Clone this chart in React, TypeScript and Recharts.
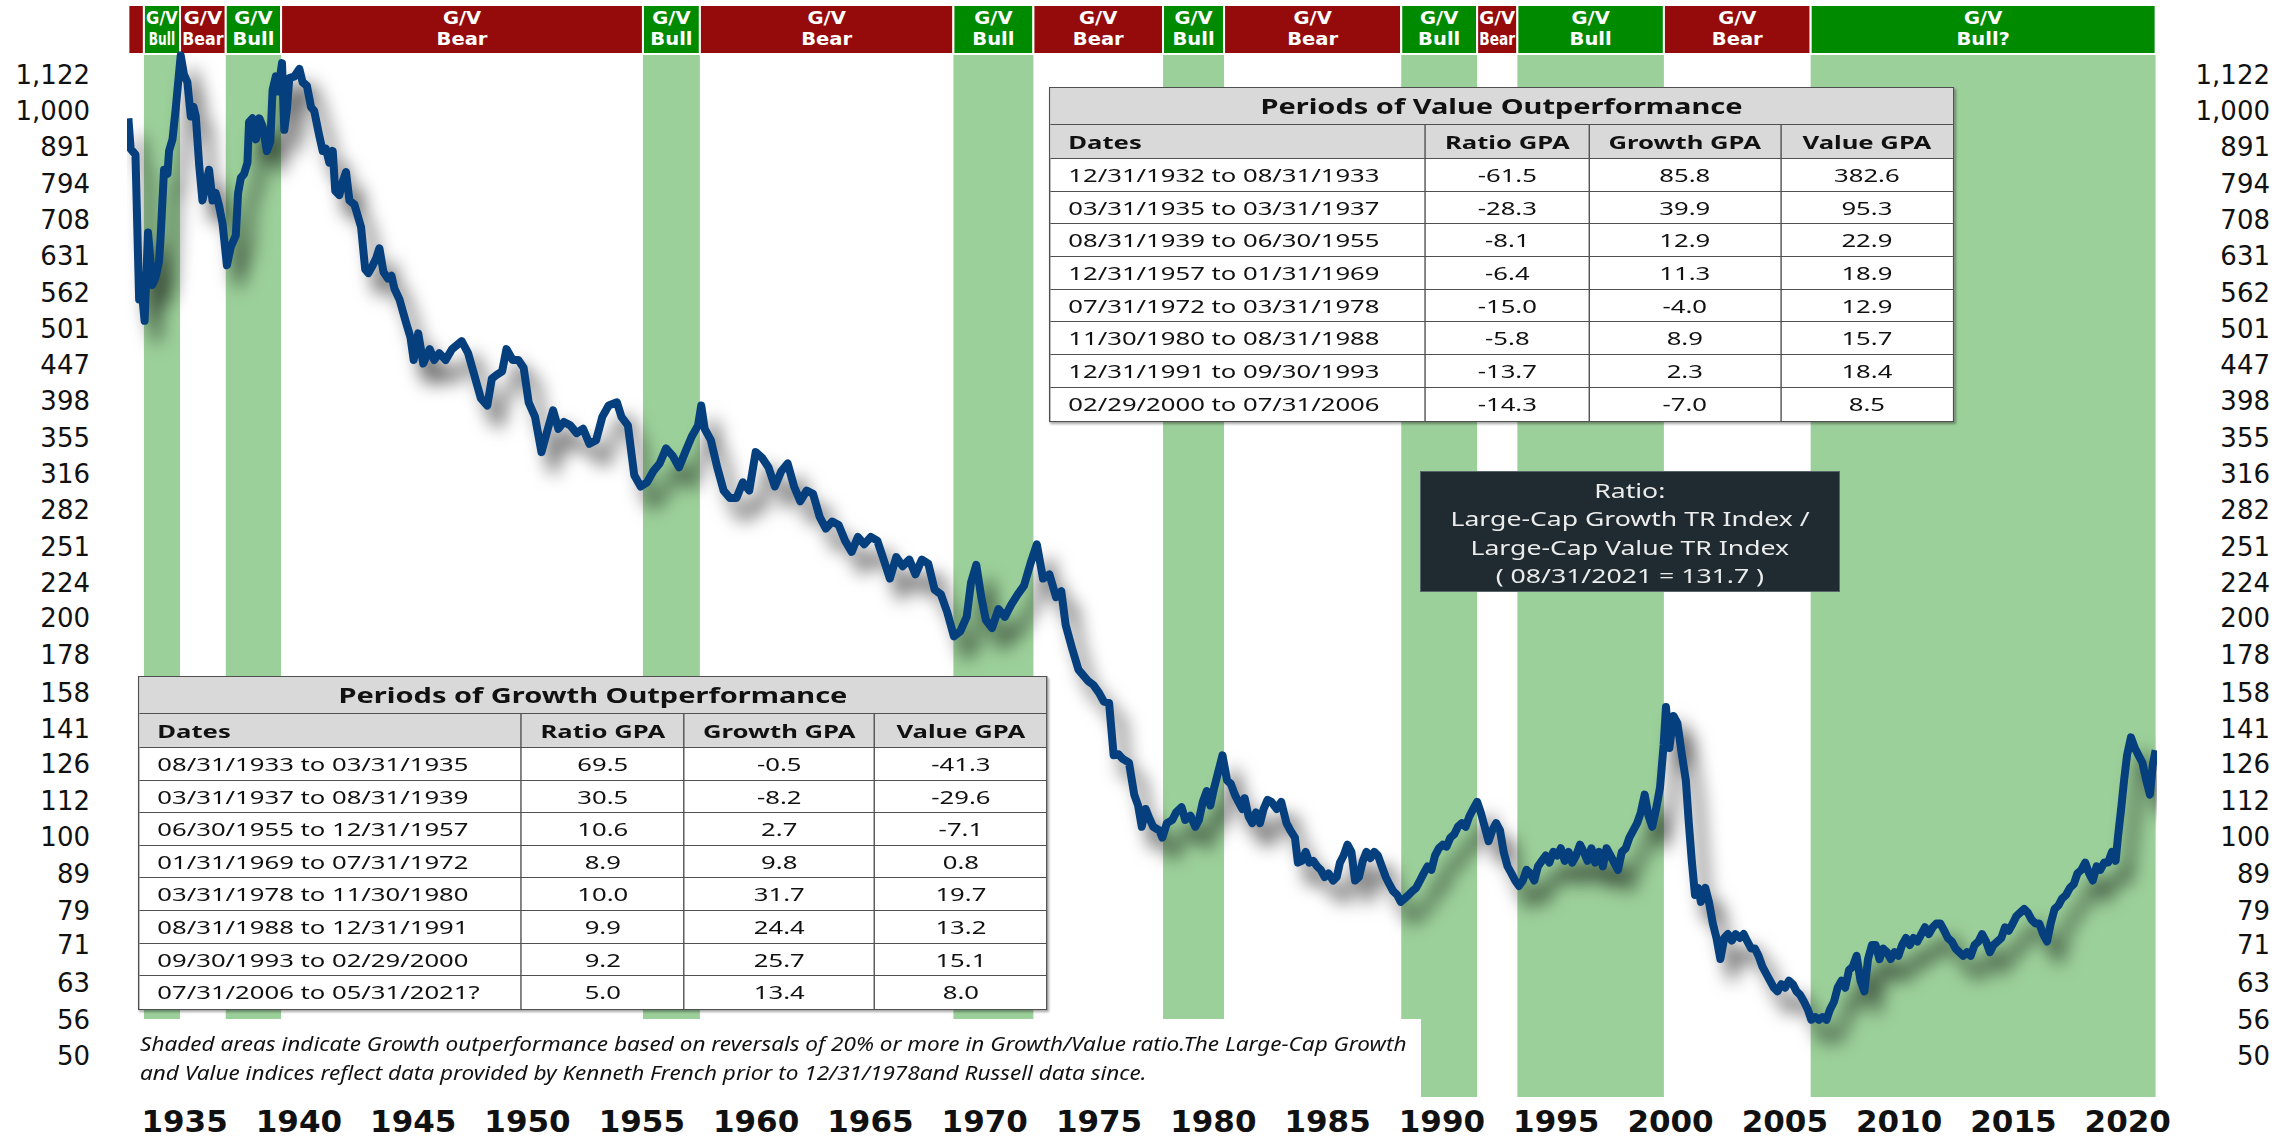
import React from "react";
import { LineChart, Line, XAxis, YAxis, ReferenceArea } from "recharts";

// Growth / Value ratio: [decimal year, ratio]
const ratioPrewar: [number, number][] = [
	[1932.99, 977], [1933.09, 887], [1933.3, 871], [1933.46, 550], [1933.52, 590], [1933.7, 514],
	[1933.85, 680], [1934.04, 576], [1934.18, 590], [1934.33, 620], [1934.4, 670], [1934.55, 830],
	[1934.7, 819], [1934.77, 881], [1934.92, 914], [1935.06, 1007], [1935.28, 1193], [1935.42, 1123],
	[1935.57, 1096], [1935.72, 983], [1935.84, 1013], [1935.94, 983], [1936.09, 840], [1936.23, 753],
	[1936.38, 791], [1936.52, 830], [1936.67, 753], [1936.81, 771], [1936.96, 740], [1937.11, 700],
	[1937.3, 613], [1937.47, 650], [1937.69, 674], [1937.79, 771], [1937.91, 809], [1938.05, 819],
	[1938.2, 849], [1938.27, 966], [1938.42, 977], [1938.57, 914], [1938.72, 977], [1938.86, 953],
	[1939.05, 881], [1939.2, 908], [1939.3, 1070], [1939.44, 1116], [1939.54, 1064], [1939.71, 1164],
	[1939.81, 942], [1939.93, 1007], [1940.03, 1110], [1940.25, 1116], [1940.47, 1143], [1940.61, 1096],
	[1940.8, 1083], [1940.98, 1013], [1941.12, 1000], [1941.34, 925], [1941.49, 881], [1941.63, 887],
	[1941.78, 849], [1941.93, 881], [1942.04, 776], [1942.22, 766], [1942.37, 800], [1942.51, 824],
	[1942.66, 753], [1942.88, 743], [1943.17, 692], [1943.35, 605], [1943.49, 598], [1943.68, 613],
	[1943.83, 627], [1943.97, 647], [1944.15, 600], [1944.34, 588], [1944.5, 593], [1944.63, 569],
	[1944.85, 550],
];

const ratioPostwar: [number, number][] = [
	[1945.13, 512], [1945.33, 488], [1945.47, 454], [1945.67, 494], [1945.89, 449], [1946.17, 470],
	[1946.37, 454], [1946.59, 464], [1946.87, 454], [1947.15, 470], [1947.57, 482], [1947.85, 464],
	[1948.12, 433], [1948.41, 402], [1948.69, 393], [1948.89, 428], [1949.1, 433], [1949.34, 438],
	[1949.53, 470], [1949.8, 454], [1950.05, 454], [1950.28, 443], [1950.5, 397], [1950.78, 379],
	[1951.06, 339], [1951.34, 365], [1951.57, 387], [1951.8, 365], [1952.04, 373], [1952.32, 369],
	[1952.6, 360], [1952.88, 365], [1953.16, 348], [1953.45, 352], [1953.72, 379], [1954.0, 393],
	[1954.36, 397], [1954.56, 379], [1954.84, 369], [1955.12, 315], [1955.4, 304], [1955.68, 308],
	[1955.95, 319], [1956.23, 327], [1956.51, 343], [1956.8, 335], [1957.08, 323], [1957.35, 339],
	[1957.63, 356], [1957.91, 369], [1958.05, 393], [1958.2, 365], [1958.47, 352], [1958.75, 323],
	[1959.03, 300], [1959.31, 293], [1959.59, 293], [1959.87, 308], [1960.15, 300], [1960.43, 339],
	[1960.71, 333], [1960.99, 323], [1961.27, 304], [1961.55, 319], [1961.83, 327], [1962.11, 304],
	[1962.38, 290], [1962.66, 300], [1962.94, 297], [1963.23, 276], [1963.5, 266], [1963.78, 272],
	[1964.06, 269], [1964.34, 256], [1964.63, 247], [1964.9, 259], [1965.18, 253], [1965.47, 259],
	[1965.75, 256], [1966.03, 241], [1966.3, 227], [1966.58, 243], [1966.86, 236], [1967.15, 241],
	[1967.42, 230], [1967.7, 241], [1967.98, 238], [1968.26, 219], [1968.53, 216], [1968.81, 204],
	[1969.1, 189], [1969.38, 192], [1969.66, 201], [1969.85, 224], [1970.08, 237], [1970.3, 214],
	[1970.5, 199], [1970.77, 194], [1971.05, 206], [1971.33, 201], [1971.61, 209], [1971.9, 216],
	[1972.17, 222], [1972.45, 238], [1972.73, 253], [1973.0, 227], [1973.28, 230], [1973.57, 214],
	[1973.8, 218], [1973.99, 196], [1974.27, 182], [1974.55, 170], [1974.97, 164], [1975.2, 162],
	[1975.45, 158],
];

const ratioModern: [number, number][] = [
	[1975.66, 153.6], [1975.89, 153], [1976.09, 129.6], [1976.3, 130], [1976.49, 128.1], [1976.76, 126.6],
	[1976.99, 114.4], [1977.16, 110.5], [1977.32, 103.3], [1977.49, 109.3], [1977.66, 106], [1977.82, 103.3],
	[1978.09, 102.1], [1978.22, 99.8], [1978.42, 104.5], [1978.66, 105.6], [1978.82, 108.1], [1979.06, 109.9],
	[1979.22, 105.6], [1979.45, 107], [1979.66, 103.3], [1979.82, 105.6], [1979.99, 111.8], [1980.16, 115.7],
	[1980.32, 110.5], [1980.49, 117], [1980.65, 122.4], [1980.85, 129.6], [1981.05, 119.7], [1981.22, 118.3],
	[1981.39, 114.4], [1981.55, 111.8], [1981.72, 109.3], [1981.82, 113.1], [1981.99, 106.8], [1982.15, 104.5],
	[1982.32, 108.1], [1982.49, 104.5], [1982.65, 109.3], [1982.82, 112.5], [1982.99, 111.8], [1983.22, 109.3],
	[1983.42, 111.8], [1983.65, 104.5], [1983.82, 102.1], [1984.02, 99.8], [1984.15, 92.2], [1984.32, 92.7],
	[1984.49, 95.4], [1984.65, 92.2], [1984.82, 92.7], [1984.99, 91.1], [1985.15, 90.1], [1985.32, 88.1],
	[1985.49, 89.1], [1985.69, 87.1], [1985.85, 88.1], [1985.99, 92.2], [1986.15, 94.3], [1986.32, 97.6],
	[1986.49, 95.4], [1986.65, 87.1], [1986.82, 88.1], [1986.99, 92.7], [1987.15, 95.4], [1987.32, 93.5],
	[1987.49, 95.4], [1987.65, 94.3], [1987.82, 91.1], [1987.99, 88.1], [1988.15, 86.1], [1988.32, 84.2],
	[1988.49, 83.2], [1988.65, 81.4], [1988.82, 82.3], [1988.99, 83.2], [1989.15, 84.2], [1989.32, 85.1],
	[1989.49, 87.1], [1989.65, 89.1], [1989.82, 91.1], [1989.99, 90.1], [1990.15, 94.3], [1990.32, 96.5],
	[1990.49, 97.6], [1990.65, 97], [1990.82, 99.8], [1990.99, 100.9], [1991.15, 103.3], [1991.32, 104.5],
	[1991.49, 103.3], [1991.65, 106.8], [1991.82, 109.3], [1991.99, 111.8], [1992.15, 108.1], [1992.32, 103.3],
	[1992.49, 98.7], [1992.65, 102.1], [1992.82, 104.5], [1992.99, 102.1], [1993.15, 95.4], [1993.32, 91.1],
	[1993.49, 89.1], [1993.65, 87.1], [1993.82, 85.6], [1993.99, 87.1], [1994.15, 90.1], [1994.32, 89.1],
	[1994.49, 87.1], [1994.65, 91.1], [1994.82, 92.7], [1994.99, 94.3], [1995.15, 92.2], [1995.32, 95.4],
	[1995.49, 94.3], [1995.65, 96.5], [1995.82, 92.7], [1995.99, 95.4], [1996.15, 92.2], [1996.32, 94.3],
	[1996.49, 97.6], [1996.65, 95.4], [1996.82, 92.7], [1996.99, 96.5], [1997.15, 92.2], [1997.32, 95.4],
	[1997.49, 91.1], [1997.65, 96.5], [1997.82, 94.3], [1998.15, 90.1], [1998.32, 95.4], [1998.49, 96.5],
	[1998.65, 99.8], [1998.82, 102.1], [1998.99, 104.5], [1999.15, 108.1], [1999.32, 114.4], [1999.49, 106.8],
	[1999.65, 103.3], [1999.82, 109.3], [1999.99, 117], [2000.15, 134.1], [2000.25, 151], [2000.4, 132.6],
	[2000.58, 146.8], [2000.75, 143.5], [2000.95, 129.6], [2001.12, 119.7], [2001.25, 104.5], [2001.38, 92.7],
	[2001.52, 83.2], [2001.65, 85.1], [2001.78, 81.4], [2001.97, 85.1], [2002.13, 81.4], [2002.3, 76.0],
	[2002.46, 72.6], [2002.63, 67.9], [2002.8, 72.6], [2002.96, 73.5], [2003.13, 72], [2003.3, 73.5],
	[2003.48, 72.6], [2003.65, 73.5], [2003.81, 71.8], [2003.98, 70.2], [2004.14, 70.2], [2004.3, 68.6],
	[2004.47, 66.3], [2004.64, 64.8], [2004.8, 63.4], [2004.97, 62.0], [2005.13, 61.3], [2005.3, 62.7],
	[2005.46, 62.0], [2005.63, 63.4], [2005.8, 62.7], [2005.96, 61.3], [2006.12, 60.6], [2006.29, 59.3],
	[2006.45, 57.9], [2006.61, 56.0], [2006.78, 56.5], [2006.94, 56.0], [2007.1, 56.5], [2007.27, 56.0],
	[2007.43, 57.9], [2007.6, 59.3], [2007.76, 62.0], [2007.93, 63.4], [2008.09, 62.0], [2008.26, 65.6],
	[2008.42, 66.3], [2008.59, 68.6], [2008.76, 63.4], [2008.93, 61.3], [2009.09, 67.9], [2009.26, 71.0],
	[2009.42, 71.0], [2009.59, 67.9], [2009.75, 70.2], [2009.92, 69.4], [2010.08, 67.9], [2010.25, 69.4],
	[2010.42, 68.6], [2010.58, 71.0], [2010.75, 72.6], [2010.92, 71.0], [2011.08, 72.6], [2011.25, 71.8],
	[2011.42, 73.5], [2011.58, 75.1], [2011.75, 73.5], [2011.92, 75.1], [2012.08, 76.0], [2012.25, 76.0],
	[2012.42, 74.3], [2012.58, 72.6], [2012.75, 71.8], [2012.92, 70.2], [2013.08, 69.4], [2013.25, 68.6],
	[2013.42, 69.4], [2013.58, 68.6], [2013.75, 71.0], [2013.92, 71.8], [2014.08, 73.5], [2014.25, 71.8],
	[2014.42, 69.4], [2014.58, 71.0], [2014.75, 71.8], [2014.92, 72.6], [2015.08, 75.1], [2015.25, 74.3],
	[2015.42, 76.0], [2015.58, 77.8], [2015.75, 78.7], [2015.92, 79.6], [2016.08, 78.7], [2016.25, 76.9],
	[2016.42, 76.0], [2016.58, 76.0], [2016.75, 73.5], [2016.92, 71.8], [2017.08, 76.0], [2017.25, 79.6],
	[2017.42, 80.5], [2017.58, 82.3], [2017.75, 83.2], [2017.92, 85.1], [2018.09, 86.1], [2018.25, 89.1],
	[2018.42, 90.1], [2018.59, 92.2], [2018.76, 89.1], [2018.92, 87.1], [2019.09, 91.1], [2019.25, 90.1],
	[2019.42, 92.2], [2019.59, 92.2], [2019.76, 95.4], [2019.92, 92.7], [2020.02, 99.8], [2020.16, 109.3],
	[2020.29, 119.7], [2020.42, 129.6], [2020.59, 137.2], [2020.76, 132.6], [2020.92, 129.6], [2021.09, 126.6],
	[2021.26, 119.7], [2021.42, 114.4], [2021.55, 126], [2021.67, 131.7],
];

// G/V regimes: start of each period (decimal year), the last one runs to periodEnd
const periodStarts = [
	1932.99, 1933.67, 1935.25, 1937.25, 1939.67, 1955.5, 1957.99, 1969.08,
	1972.58, 1978.25, 1980.92, 1988.67, 1991.99, 1993.75, 2000.16, 2006.58,
];
const periodEnd = 2021.67;
const periodLabels = [
	"", "Bull", "Bear", "Bull", "Bear", "Bull", "Bear", "Bull",
	"Bear", "Bull", "Bear", "Bull", "Bear", "Bull", "Bear", "Bull?",
];

const yTicks = [
	1122, 1000, 891, 794, 708, 631, 562, 501, 447, 398, 355, 316, 282, 251,
	224, 200, 178, 158, 141, 126, 112, 100, 89, 79, 71, 63, 56, 50,
];
const yTickLabels = [
	"1,122", "1,000", "891", "794", "708", "631", "562", "501", "447", "398", "355", "316", "282", "251",
	"224", "200", "178", "158", "141", "126", "112", "100", "89", "79", "71", "63", "56", "50",
];
const xTickYears = [
	1935, 1940, 1945, 1950, 1955, 1960, 1965, 1970, 1975,
	1980, 1985, 1990, 1995, 2000, 2005, 2010, 2015, 2020,
];
const LABEL_SHIFT = 0.45; // year labels sit in the middle of the year

const growthDates = [
	"08/31/1933 to 03/31/1935", "03/31/1937 to 08/31/1939", "06/30/1955 to 12/31/1957", "01/31/1969 to 07/31/1972",
	"03/31/1978 to 11/30/1980", "08/31/1988 to 12/31/1991", "09/30/1993 to 02/29/2000", "07/31/2006 to 05/31/2021?",
];
const growthRatioGpa = ["69.5", "30.5", "10.6", "8.9", "10.0", "9.9", "9.2", "5.0"];
const growthGrowthGpa = ["-0.5", "-8.2", "2.7", "9.8", "31.7", "24.4", "25.7", "13.4"];
const growthValueGpa = ["-41.3", "-29.6", "-7.1", "0.8", "19.7", "13.2", "15.1", "8.0"];

const valueDates = [
	"12/31/1932 to 08/31/1933", "03/31/1935 to 03/31/1937", "08/31/1939 to 06/30/1955", "12/31/1957 to 01/31/1969",
	"07/31/1972 to 03/31/1978", "11/30/1980 to 08/31/1988", "12/31/1991 to 09/30/1993", "02/29/2000 to 07/31/2006",
];
const valueRatioGpa = ["-61.5", "-28.3", "-8.1", "-6.4", "-15.0", "-5.8", "-13.7", "-14.3"];
const valueGrowthGpa = ["85.8", "39.9", "12.9", "11.3", "-4.0", "8.9", "2.3", "-7.0"];
const valueValueGpa = ["382.6", "95.3", "22.9", "18.9", "12.9", "15.7", "18.4", "8.5"];

const ratioBoxLines = ["Ratio:", "Large-Cap Growth TR Index /", "Large-Cap Value TR Index", "( 08/31/2021 = 131.7 )"];
const footnoteLines = [
	"Shaded areas indicate Growth outperformance based on reversals of 20% or more in Growth/Value ratio.The Large-Cap Growth",
	"and Value indices reflect data provided by Kenneth French prior to 12/31/1978and Russell data since.",
];

const data = [...ratioPrewar, ...ratioPostwar, ...ratioModern].map(([t, v]) => ({ t, v }));

const X_DOMAIN: [number, number] = [1932.93, 2021.73];
const Y_DOMAIN: [number, number] = [43.84, 1399.7];
const BANNER_BOTTOM = 1198.3;

const GREEN_BAND = "#9cd09a";
const BULL = "#008a00";
const BEAR = "#950b0b";
const TEXT_FONT = "'Noto Sans', 'Open Sans', sans-serif";
const STRETCH = 1.38;

const LeftTick = (props: any) => {
	const i = yTicks.indexOf(props.payload.value);
	return (
		<text x={90} y={props.y} dy={9} textAnchor="end" fontFamily="'DejaVu Sans', sans-serif" fontSize={26} fill="#111">
			{yTickLabels[i]}
		</text>
	);
};

const RightTick = (props: any) => {
	const i = yTicks.indexOf(props.payload.value);
	return (
		<text x={2270} y={props.y} dy={9} textAnchor="end" fontFamily="'DejaVu Sans', sans-serif" fontSize={26} fill="#111">
			{yTickLabels[i]}
		</text>
	);
};

const YearTick = (props: any) => {
	const year = xTickYears.find((yr) => Math.abs(yr + LABEL_SHIFT - props.payload.value) < 0.01);
	return (
		<text x={props.x} y={1132} textAnchor="middle" fontFamily="'DejaVu Sans', sans-serif" fontWeight="bold" fontSize={31} fill="#111">
			{year}
		</text>
	);
};

// two-line white label; squeezed so it never spills past its banner cell
const BannerLabel = (props: any) => {
	const { viewBox, text, idx } = props;
	if (!text || !viewBox) return null;
	const cx = viewBox.x + viewBox.width / 2;
	const fit = (s: string) => Math.min(1.15, (viewBox.width - 4) / (s.length * 0.66 * 17));
	const clipId = `banner-clip-${idx}`;
	return (
		<g fontFamily="'DejaVu Sans', sans-serif" fontWeight="bold" fontSize={17} fill="#fff">
			<clipPath id={clipId}>
				<rect x={viewBox.x} y={viewBox.y} width={viewBox.width} height={viewBox.height} />
			</clipPath>
			<g clipPath={`url(#${clipId})`}>
				<text transform={`translate(${cx} 23.5) scale(${fit("G/V")} 1)`} textAnchor="middle">G/V</text>
				<text transform={`translate(${cx} 45) scale(${fit(text)} 1)`} textAnchor="middle">{text}</text>
			</g>
		</g>
	);
};

type TableProps = {
	left: number;
	top: number;
	title: string;
	cols: number[];
	rowH: number;
	dates: string[];
	ratio: string[];
	growth: string[];
	value: string[];
};

const border = "1.5px solid #505050";

const PeriodTable = ({ left, top, title, cols, rowH, dates, ratio, growth, value }: TableProps) => {
	const w = cols.map((c) => c / STRETCH);
	const total = w.reduce((a, b) => a + b, 0);
	const cell = (txt: string, j: number, bold: boolean, align: "left" | "center") => (
		<div
			key={j}
			style={{
				width: w[j],
				boxSizing: "border-box",
				borderRight: j < 3 ? border : "none",
				textAlign: align,
				paddingLeft: align === "left" ? 13 : 0,
				fontWeight: bold ? 700 : 400,
				whiteSpace: "nowrap",
			}}
		>
			{txt}
		</div>
	);
	return (
		<div
			style={{
				position: "absolute",
				left,
				top,
				width: total,
				transform: `scaleX(${STRETCH})`,
				transformOrigin: "left top",
				border,
				boxSizing: "border-box",
				background: "#fff",
				fontFamily: TEXT_FONT,
				fontSize: 18.6,
				color: "#111",
				boxShadow: "1px 2px 2px rgba(0,0,0,0.35)",
			}}
		>
			<div
				style={{
					height: 36,
					lineHeight: "36px",
					background: "#d9d9d9",
					borderBottom: border,
					textAlign: "center",
					fontWeight: 700,
					fontSize: 21,
				}}
			>
				{title}
			</div>
			<div style={{ display: "flex", height: 33, lineHeight: "33px", background: "#d9d9d9", borderBottom: border }}>
				{cell("Dates", 0, true, "left")}
				{cell("Ratio GPA", 1, true, "center")}
				{cell("Growth GPA", 2, true, "center")}
				{cell("Value GPA", 3, true, "center")}
			</div>
			{dates.map((d, i) => (
				<div
					key={d}
					style={{
						display: "flex",
						height: rowH,
						lineHeight: `${rowH}px`,
						borderBottom: i < dates.length - 1 ? border : "none",
						boxSizing: "border-box",
					}}
				>
					{cell(d, 0, false, "left")}
					{cell(ratio[i], 1, false, "center")}
					{cell(growth[i], 2, false, "center")}
					{cell(value[i], 3, false, "center")}
				</div>
			))}
		</div>
	);
};

const Stretched = ({ children, sx, origin }: { children: React.ReactNode; sx: number; origin: string }) => (
	<span style={{ display: "inline-block", transform: `scaleX(${sx})`, transformOrigin: origin, whiteSpace: "nowrap" }}>
		{children}
	</span>
);

const App = () => {
	return (
		<div style={{ position: "absolute", left: 0, top: 0, width: 2293, height: 1141, background: "#fff", overflow: "hidden" }}>
			<style>{`.ratio-line path { filter: drop-shadow(12px 18px 9px rgba(0,0,0,0.62)); }`}</style>
			<LineChart width={2293} height={1141} data={data} margin={{ top: 5, right: 0, bottom: 0, left: 0 }}>
				<XAxis
					dataKey="t"
					type="number"
					domain={X_DOMAIN}
					allowDataOverflow
					ticks={xTickYears.map((y) => y + LABEL_SHIFT)}
					interval={0}
					tick={<YearTick />}
					axisLine={false}
					tickLine={false}
					height={44}
				/>
				<YAxis
					yAxisId="left"
					type="number"
					scale="log"
					domain={Y_DOMAIN}
					allowDataOverflow
					ticks={yTicks}
					interval={0}
					tick={<LeftTick />}
					axisLine={false}
					tickLine={false}
					width={127}
				/>
				<YAxis
					yAxisId="right"
					orientation="right"
					type="number"
					scale="log"
					domain={Y_DOMAIN}
					allowDataOverflow
					ticks={yTicks}
					interval={0}
					tick={<RightTick />}
					axisLine={false}
					tickLine={false}
					width={136}
				/>
				{periodStarts.map((s, i) =>
					periodLabels[i].startsWith("Bull") ? (
						<ReferenceArea
							key={`band-${i}`}
							yAxisId="left"
							x1={s}
							x2={i + 1 < periodStarts.length ? periodStarts[i + 1] : periodEnd}
							y1={Y_DOMAIN[0]}
							y2={BANNER_BOTTOM}
							fill={GREEN_BAND}
							fillOpacity={1}
							stroke="none"
							ifOverflow="visible"
						/>
					) : null
				)}
				{periodStarts.map((s, i) => (
					<ReferenceArea
						key={`banner-${i}`}
						yAxisId="left"
						x1={s}
						x2={i + 1 < periodStarts.length ? periodStarts[i + 1] : periodEnd}
						y1={BANNER_BOTTOM}
						y2={Y_DOMAIN[1]}
						fill={periodLabels[i].startsWith("Bull") ? BULL : BEAR}
						fillOpacity={1}
						stroke="#ffffff"
						strokeWidth={2}
						ifOverflow="visible"
						label={<BannerLabel text={periodLabels[i]} idx={i} />}
					/>
				))}
				<Line
					yAxisId="left"
					className="ratio-line"
					type="linear"
					dataKey="v"
					stroke="#053f7d"
					strokeWidth={8}
					strokeLinejoin="round"
					dot={false}
					activeDot={false}
					isAnimationActive={false}
				/>
			</LineChart>

			<PeriodTable
				left={1049}
				top={87}
				title="Periods of Value Outperformance"
				cols={[377, 164, 192, 172]}
				rowH={32.7}
				dates={valueDates}
				ratio={valueRatioGpa}
				growth={valueGrowthGpa}
				value={valueValueGpa}
			/>
			<PeriodTable
				left={138}
				top={676}
				title="Periods of Growth Outperformance"
				cols={[384, 163, 191, 172]}
				rowH={32.6}
				dates={growthDates}
				ratio={growthRatioGpa}
				growth={growthGrowthGpa}
				value={growthValueGpa}
			/>

			<div
				style={{
					position: "absolute",
					left: 1420,
					top: 471,
					width: 420,
					height: 121,
					background: "#1f2b30",
					border: "1px solid #59636a",
					boxSizing: "border-box",
					fontFamily: TEXT_FONT,
					fontSize: 20,
					color: "#ececec",
				}}
			>
				{ratioBoxLines.map((line, i) => (
					<div key={line} style={{ position: "absolute", left: 0, width: "100%", top: 5 + i * 28.3, height: 28, lineHeight: "28px", textAlign: "center" }}>
						<Stretched sx={1.33} origin="center">{line}</Stretched>
					</div>
				))}
			</div>

			<div style={{ position: "absolute", left: 127, top: 1019, width: 1294, height: 79, background: "#fff" }}>
				{footnoteLines.map((line, i) => (
					<div
						key={i}
						style={{
							position: "absolute",
							left: 13,
							top: 10 + i * 29,
							height: 28,
							lineHeight: "28px",
							fontFamily: TEXT_FONT,
							fontStyle: "italic",
							fontSize: 20.5,
							color: "#111",
						}}
					>
						<Stretched sx={1.1} origin="left center">{line}</Stretched>
					</div>
				))}
			</div>
		</div>
	);
};

export default App;
